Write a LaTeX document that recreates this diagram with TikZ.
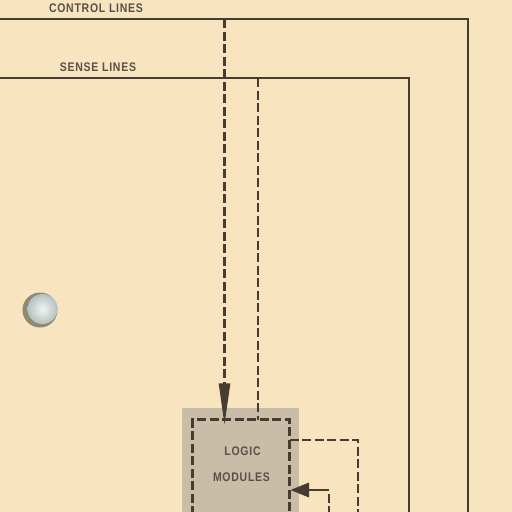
\documentclass[tikz,border=0pt]{standalone}
\usepackage{fontspec}
\setmainfont{Liberation Sans}
\newfontfamily\lblfont[FakeStretch=0.84, LetterSpace=6]{Liberation Sans}
\usetikzlibrary{arrows.meta}
\definecolor{paper}{HTML}{F8E4BE}
\definecolor{ink}{HTML}{463C31}
\definecolor{boxgray}{HTML}{C9BDA7}
\definecolor{ballrim}{HTML}{8E8A72}
\definecolor{ballin}{HTML}{F2F5F0}
\definecolor{ballout}{HTML}{B3C1C2}
\begin{document}
\begin{tikzpicture}[x=1pt,y=-1pt,
  wire/.style={draw=ink,line width=2.6pt},
  dwire/.style={draw=ink,line width=2.9pt,dash pattern=on 9pt off 3.5pt},
  lbl/.style={font=\lblfont\bfseries\fontsize{12.5}{13}\selectfont, text=ink!90, inner sep=0pt}]
\fill[paper] (0,0) rectangle (512,512);
\useasboundingbox (0,0) rectangle (512,512);
% shaded module box
\node[fill=boxgray, minimum width=117pt, minimum height=110pt, inner sep=0pt] (shade) at (240.5,463) {};
% labels
\node[lbl] (ctl) at (96,8) {CONTROL LINES};
\node[lbl] (sen) at (98,67) {SENSE LINES};
\node[lbl] (logic) at (242.5,451) {LOGIC};
\node[lbl] (mod) at (241.5,477) {MODULES};
% coordinates
\coordinate (cL) at (0,19);
\coordinate (cR) at (468,19);
\coordinate (cB) at (468,515);
\coordinate (sL) at (0,78);
\coordinate (sR) at (409,78);
\coordinate (sB) at (409,515);
\coordinate (cTap) at (224.5,19);
\coordinate (cIn) at (224.5,419);
\coordinate (sTap) at (258,78);
\coordinate (sIn) at (258,419.5);
\coordinate (bLB) at (192.5,515);
\coordinate (bLT) at (192.5,419.5);
\coordinate (bRT) at (289.5,419.5);
\coordinate (bRB) at (289.5,515);
\coordinate (oOut) at (289.5,440);
\coordinate (oCorner) at (358,440);
\coordinate (oB) at (358,515);
\coordinate (fB) at (329,515);
\coordinate (fCorner) at (329,490);
\coordinate (fIn) at (290.5,490);
% solid bus lines
\draw[wire] (cL) -- (cR) -- (cB);
\draw[wire] (sL) -- (sR) -- (sB);
% dashed module outline
\draw[dwire] (bLB) -- (bLT) -- (bRT) -- (bRB);
% dashed connectors
\draw[dwire] (cTap) -- (224.5,385);
\draw[draw=ink,line width=1.5pt,fill=ink,line join=miter] (219.5,384) -- (229.5,384) -- (cIn) -- cycle;
\draw[dwire] (sTap) -- (sIn);
\draw[dwire] (oOut) -- (oCorner) -- (oB);
\draw[dwire] (fB) -- (fCorner);
\draw[wire] (fCorner) -- (309,490);
\fill[ink] (309,482.5) -- (309,497.5) -- (fIn) -- cycle;
% ball
\fill[ballrim] (40,310) circle (17.5);
\shade[inner color=ballin, outer color=ballout] (42.5,309) circle (15);
\end{tikzpicture}
\end{document}
